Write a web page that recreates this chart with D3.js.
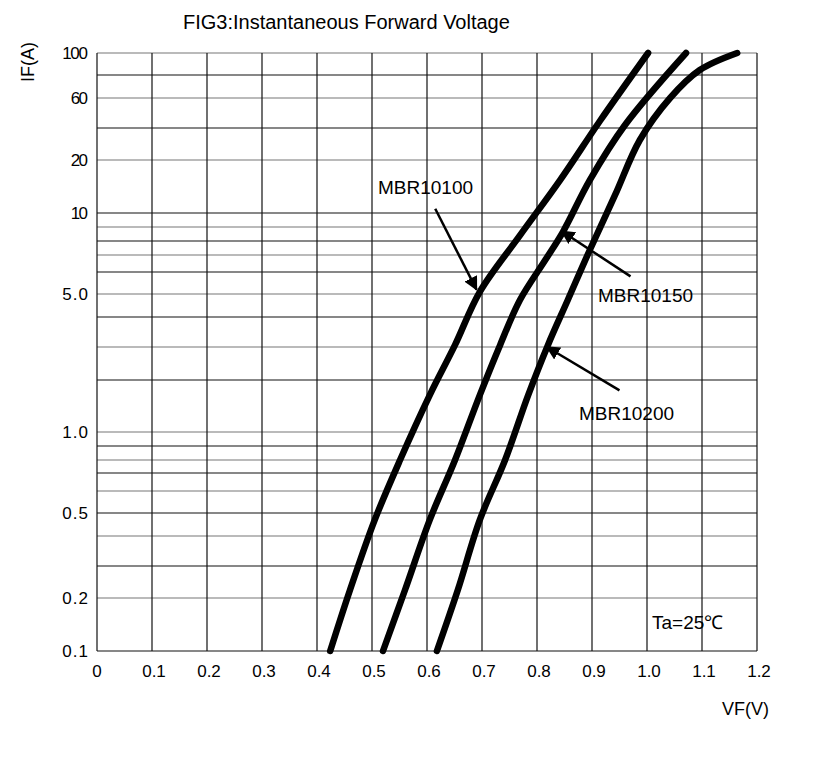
<!DOCTYPE html>
<html><head><meta charset="utf-8">
<script src="https://cdn.jsdelivr.net/npm/d3@7"></script>
<style>body{margin:0;background:#fff}text{font-family:"Liberation Sans",Arial,sans-serif}</style>
</head><body><svg id="c" width="814" height="758"></svg>
<script>
// grid values and where the original sheet puts them (irregular log grid)
var gridIF = [0.1,0.2,0.3,0.4,0.5,0.6,0.7,0.8,0.9,1,2,3,4,5,6,7,8,9,10,20,40,60,80,100]
var gridPx = [651,598,566,536,513,491,473,460,446,432,380,347,317,294,272,255,241,227,213,160,128,98,75,53]
var yLabels = ["0.1","0.2","0.5","1.0","5.0","10","20","60","100"]
var xTicks = [0,0.1,0.2,0.3,0.4,0.5,0.6,0.7,0.8,0.9,1.0,1.1,1.2]

var mbr10100V = [0.424,0.46,0.505,0.551,0.605,0.651,0.696,0.769,0.842,0.915,1.002]
var mbr10100I = [0.1,0.225,0.47,0.8,1.71,3.07,5.1,8.4,16.2,45,100]
var mbr10150V = [0.52,0.56,0.605,0.651,0.696,0.733,0.769,0.815,0.847,0.896,0.96,1.071]
var mbr10150I = [0.1,0.225,0.47,0.8,1.71,3.07,4.74,6.7,8.64,16.2,42,100]
var mbr10200V = [0.618,0.656,0.696,0.742,0.784,0.82,0.856,0.896,0.942,0.987,1.042,1.096,1.164]
var mbr10200I = [0.1,0.225,0.47,0.8,1.71,3.07,4.74,7.36,13.4,32.5,60,84.5,100]

var svg = d3.select("#c")
var x = d3.scaleLinear().domain([0,1.2]).range([97,757])
var y = d3.scaleLinear().domain(gridIF).range(gridPx)

svg.append("defs").append("marker").attr("id","ah").attr("viewBox","0 0 10 10")
  .attr("refX",9).attr("refY",5).attr("markerWidth",7).attr("markerHeight",7)
  .attr("markerUnits","userSpaceOnUse").attr("orient","auto")
  .append("path").attr("d","M0,0L10,5L0,10Z").attr("fill","#000")
svg.select("marker").attr("markerWidth",14).attr("markerHeight",14)

// horizontal grid
svg.selectAll(".hg").data(gridIF).enter().append("line")
  .attr("x1",x(0)).attr("x2",x(1.2)).attr("y1",d=>y(d)).attr("y2",d=>y(d))
  .attr("stroke",(d,i)=>i%2 ? "#777" : "#111").attr("stroke-width",1.2)
// vertical grid
svg.selectAll(".vg").data(xTicks).enter().append("line")
  .attr("x1",d=>x(d)).attr("x2",d=>x(d)).attr("y1",y(0.1)).attr("y2",y(100))
  .attr("stroke","#111").attr("stroke-width",1.2)

svg.selectAll(".yl").data(yLabels).enter().append("text")
  .attr("x",88).attr("y",d=>y(+d)+6).attr("text-anchor","end")
  .attr("font-size",17).attr("textLength",d=>d.length*8.6).text(d=>d)
svg.selectAll(".xl").data(xTicks).enter().append("text")
  .attr("x",d=>d==0 ? x(d) : x(d)+2).attr("y",677).attr("text-anchor","middle")
  .attr("font-size",17).text(d=>d==0 ? "0" : d.toFixed(1))

svg.append("text").attr("x",183).attr("y",29).attr("font-size",20).text("FIG3:Instantaneous Forward Voltage")
svg.append("text").attr("transform","translate(34,62) rotate(-90)").attr("text-anchor","middle")
  .attr("font-size",18).text("IF(A)")
svg.append("text").attr("x",722).attr("y",715).attr("font-size",18).text("VF(V)")
svg.append("text").attr("x",652).attr("y",629).attr("font-size",19).text("Ta=25℃")

var line = d3.line().x(d=>x(d[0])).y(d=>y(d[1])).curve(d3.curveCatmullRom)
;[[mbr10100V,mbr10100I],[mbr10150V,mbr10150I],[mbr10200V,mbr10200I]].forEach(function(s){
  svg.append("path").datum(d3.zip(s[0],s[1])).attr("d",line)
    .attr("fill","none").attr("stroke","#000").attr("stroke-width",6.5).attr("stroke-linecap","round")
})

// labels with arrows
var notes = [
  {t:"MBR10100",tx:378,ty:194,from:[0.615,10.8],to:[0.69,5.2]},
  {t:"MBR10150",tx:598,ty:302,from:[0.97,5.8],to:[0.845,8.7]},
  {t:"MBR10200",tx:579,ty:420,from:[0.95,1.8],to:[0.818,3.0]}
]
notes.forEach(function(n){
  svg.append("text").attr("x",n.tx).attr("y",n.ty).attr("font-size",19).text(n.t)
  svg.append("line").attr("x1",x(n.from[0])).attr("y1",y(n.from[1]))
    .attr("x2",x(n.to[0])).attr("y2",y(n.to[1]))
    .attr("stroke","#000").attr("stroke-width",2.5).attr("marker-end","url(#ah)")
})
</script></body></html>
